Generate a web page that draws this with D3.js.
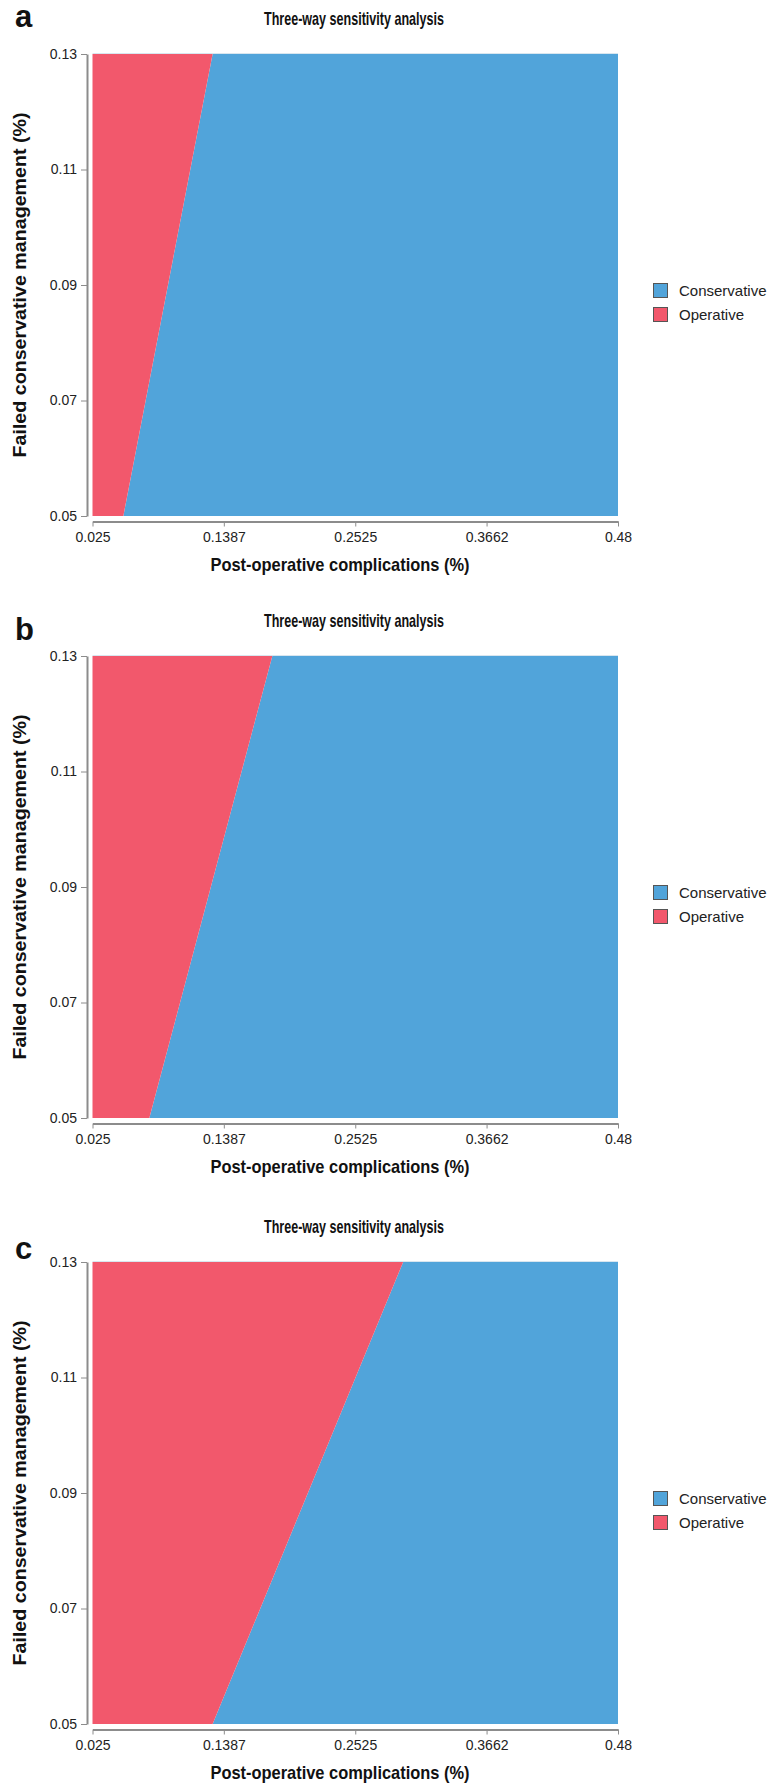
<!DOCTYPE html>
<html>
<head>
<meta charset="utf-8">
<script src="https://cdn.jsdelivr.net/npm/d3@7"></script>
<style>
  html, body { margin: 0; padding: 0; background: #fff; }
  svg { display: block; }
</style>
</head>
<body>
<svg id="chart" width="783" height="1784"></svg>
<script>
// ---------------- data ----------------
const panelLabels = ["a", "b", "c"];
const chartTitle = "Three-way sensitivity analysis";
const xTitle = "Post-operative complications (%)";
const yTitle = "Failed conservative management (%)";
const strategies = ["Conservative", "Operative"];
const xTicks = [0.025, 0.1387, 0.2525, 0.3662, 0.48];
const yTicks = [0.05, 0.07, 0.09, 0.11, 0.13];
// failed conservative management levels (bottom, top of plot)
const failedLevels = [0.05, 0.13];
// post-operative complication threshold at each level (Operative preferred left of it)
const thresholdA = [0.0517, 0.129];
const thresholdB = [0.0742, 0.1807];
const thresholdC = [0.129, 0.294];
const thresholds = [thresholdA, thresholdB, thresholdC];

// ---------------- layout ----------------
const colors = { Conservative: "#51A4DA", Operative: "#F2586C" };
const plotLeft = 92.5, plotRight = 618;
const plotTops = [54, 656, 1262];
const plotH = 462;
const labelBaselines = [-27, -16, -3];

const svg = d3.select("#chart");

const x = d3.scaleLinear().domain([xTicks[0], xTicks[xTicks.length - 1]]).range([plotLeft, plotRight]);

panelLabels.forEach((lab, i) => {
  const top = plotTops[i];
  const y = d3.scaleLinear().domain([yTicks[0], yTicks[yTicks.length - 1]]).range([top + plotH, top]);
  const g = svg.append("g");
  const th = thresholds[i];

  // Conservative region (right of threshold)
  const consPts = [
    [x.domain()[1], failedLevels[0]],
    [th[0], failedLevels[0]],
    [th[1], failedLevels[1]],
    [x.domain()[1], failedLevels[1]]
  ];
  const opPts = [
    [x.domain()[0], failedLevels[0]],
    [th[0], failedLevels[0]],
    [th[1], failedLevels[1]],
    [x.domain()[0], failedLevels[1]]
  ];
  const line = d3.line().x(d => x(d[0])).y(d => y(d[1]));
  g.append("path").attr("d", line(consPts) + "Z").attr("fill", colors.Conservative);
  g.append("path").attr("d", line(opPts) + "Z").attr("fill", colors.Operative);
  // faint top edge
  g.append("line").attr("x1", plotLeft).attr("x2", plotRight)
    .attr("y1", top - 0.5).attr("y2", top - 0.5)
    .attr("stroke", "#d8e6ef").attr("stroke-width", 1);

  // Y axis
  const yAxis = d3.axisLeft(y).tickValues(yTicks).tickFormat(d3.format(".2f"))
    .tickSize(6).tickSizeOuter(0).tickPadding(4);
  const yg = g.append("g").attr("transform", `translate(${plotLeft - 5.5},0)`).call(yAxis);
  yg.select(".domain").attr("stroke", "#8c8c8c").attr("stroke-width", 2);
  yg.selectAll(".tick line").attr("stroke", "#8c8c8c").attr("stroke-width", 1);
  yg.selectAll(".tick text").attr("font-family", "Liberation Sans, Arial, sans-serif")
    .attr("font-size", 14).attr("fill", "#222");

  // X axis
  const xAxis = d3.axisBottom(x).tickValues(xTicks).tickFormat(d => String(d))
    .tickSize(5).tickSizeOuter(0).tickPadding(6);
  const xg = g.append("g").attr("transform", `translate(0,${top + plotH + 5.5})`).call(xAxis);
  xg.select(".domain").attr("stroke", "#8c8c8c").attr("stroke-width", 2);
  xg.selectAll(".tick line").attr("stroke", "#8c8c8c").attr("stroke-width", 1);
  xg.selectAll(".tick text").attr("font-family", "Liberation Sans, Arial, sans-serif")
    .attr("font-size", 14).attr("fill", "#222");

  // Chart title
  g.append("text").attr("x", 354).attr("y", top - 29)
    .attr("text-anchor", "middle")
    .attr("font-family", "Liberation Sans, Arial, sans-serif")
    .attr("font-weight", "bold").attr("font-size", 19)
    .attr("textLength", 180).attr("lengthAdjust", "spacingAndGlyphs")
    .attr("fill", "#111").text(chartTitle);

  // X title
  g.append("text").attr("x", 340).attr("y", top + plotH + 55)
    .attr("text-anchor", "middle")
    .attr("font-family", "Liberation Sans, Arial, sans-serif")
    .attr("font-weight", "bold").attr("font-size", 19)
    .attr("textLength", 259).attr("lengthAdjust", "spacingAndGlyphs")
    .attr("fill", "#111").text(xTitle);

  // Y title
  g.append("text")
    .attr("transform", `translate(26,${top + plotH / 2}) rotate(-90)`)
    .attr("text-anchor", "middle")
    .attr("font-family", "Liberation Sans, Arial, sans-serif")
    .attr("font-weight", "bold").attr("font-size", 18)
    .attr("textLength", 345).attr("lengthAdjust", "spacingAndGlyphs")
    .attr("fill", "#111").text(yTitle);

  // Panel label
  g.append("text").attr("x", 15).attr("y", top + labelBaselines[i])
    .attr("font-family", "Liberation Sans, Arial, sans-serif")
    .attr("font-weight", "bold").attr("font-size", 31)
    .attr("fill", "#111").text(lab);

  // Legend
  const lg = g.append("g").attr("transform", `translate(653.5,${top + 229.5})`);
  strategies.forEach((s, k) => {
    lg.append("rect").attr("x", 0).attr("y", k * 24).attr("width", 14).attr("height", 14)
      .attr("fill", colors[s]).attr("stroke", "#555").attr("stroke-width", 1);
    lg.append("text").attr("x", 25.5).attr("y", k * 24 + 12.5)
      .attr("font-family", "Liberation Sans, Arial, sans-serif")
      .attr("font-size", 15).attr("fill", "#222").text(s);
  });
});
</script>
</body>
</html>
